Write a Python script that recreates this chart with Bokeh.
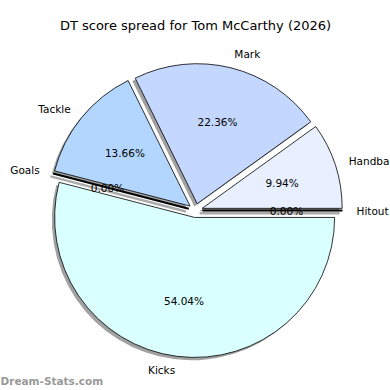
import math
from bokeh.plotting import figure
from bokeh.models import Range1d, ColumnDataSource
from bokeh.core.properties import value
from bokeh.embed import file_html
from bokeh.resources import INLINE

# ---- data ----
categories = ["Kicks", "Goals", "Tackle", "Mark", "Handball", "Hitout"]
percents = [54.04, 0.00, 13.66, 22.36, 9.94, 0.00]
colors = ["#d9ffff", "#d9ffff", "#b3d6ff", "#c4d8ff", "#e8f0ff", "#e8f0ff"]
title_text = "DT score spread for Tom McCarthy (2026)"
watermark = "Dream-Stats.com"

# ---- layout (picture pixels, y measured upward) ----
W, H = 390, 390
cx, cy = 195.0, H - 210.0
R = 140.0
EXPLODE = 0.05
SH_DX, SH_DY = -0.02 * R, -0.02 * R
FONT = "DejaVu Sans"

p = figure(width=W, height=H, output_backend="svg", toolbar_location=None,
           x_range=Range1d(0, W), y_range=Range1d(0, H),
           min_border=0, outline_line_color=None)
p.axis.visible = False
p.grid.visible = False
p.background_fill_color = "white"

total = sum(percents)
wedges = dict(x=[], y=[], sa=[], ea=[], color=[], shx=[], shy=[])
lines = dict(x0=[], y0=[], x1=[], y1=[], sx0=[], sy0=[], sx1=[], sy1=[])
labels = dict(x=[], y=[], text=[], align=[])
pcts = dict(x=[], y=[], text=[])

cum = 0.0
for cat, v, col in zip(categories, percents, colors):
    frac = v / total
    t_start = -cum * 2 * math.pi          # clockwise from 0
    t_end = -(cum + frac) * 2 * math.pi
    tm = (t_start + t_end) / 2
    ox = cx + EXPLODE * R * math.cos(tm)
    oy = cy + EXPLODE * R * math.sin(tm)
    if frac > 0:
        wedges["x"].append(ox); wedges["y"].append(oy)
        wedges["sa"].append(t_end); wedges["ea"].append(t_start)
        wedges["color"].append(col)
        wedges["shx"].append(ox + SH_DX); wedges["shy"].append(oy + SH_DY)
    else:
        ex = ox + R * math.cos(tm); ey = oy + R * math.sin(tm)
        lines["x0"].append(ox); lines["y0"].append(oy)
        lines["x1"].append(ex); lines["y1"].append(ey)
        lines["sx0"].append(ox + SH_DX); lines["sy0"].append(oy + SH_DY)
        lines["sx1"].append(ex + SH_DX); lines["sy1"].append(ey + SH_DY)
    lx = ox + 1.1 * R * math.cos(tm)
    ly = oy + 1.1 * R * math.sin(tm)
    labels["x"].append(lx); labels["y"].append(ly); labels["text"].append(cat)
    labels["align"].append("left" if math.cos(tm) > 0 else "right")
    pcts["x"].append(ox + 0.6 * R * math.cos(tm))
    pcts["y"].append(oy + 0.6 * R * math.sin(tm))
    pcts["text"].append(f"{v:.2f}%")
    cum += frac

wsrc = ColumnDataSource(wedges)
lsrc = ColumnDataSource(lines)

# shadows
p.wedge(x="shx", y="shy", radius=R, start_angle="sa", end_angle="ea",
        source=wsrc, fill_color="#444444", fill_alpha=0.5, line_color=None)
p.segment(x0="sx0", y0="sy0", x1="sx1", y1="sy1", source=lsrc,
          line_color="#888888", line_width=2.5, line_alpha=0.7)
# wedges
p.wedge(x="x", y="y", radius=R, start_angle="sa", end_angle="ea",
        source=wsrc, fill_color="color", line_color="black", line_width=0.8)
p.segment(x0="x0", y0="y0", x1="x1", y1="y1", source=lsrc,
          line_color="black", line_width=2.0)

# labels
p.text(x="x", y="y", text="text", text_align="align", source=ColumnDataSource(labels),
       text_baseline="middle", text_font=value(FONT), text_font_size="10.5px",
       text_color="black")
p.text(x="x", y="y", text="text", source=ColumnDataSource(pcts),
       text_align="center", text_baseline="middle", text_font=value(FONT),
       text_font_size="10.5px", text_color="black")

# title
p.text(x=[195], y=[H - 25], text=[title_text], text_align="center",
       text_baseline="middle", text_font=value(FONT), text_font_size="13px",
       text_color="black")
# watermark
p.text(x=[0], y=[H - 380], text=[watermark], text_align="left",
       text_baseline="middle", text_font=value(FONT), text_font_size="10.5px",
       text_font_style="bold", text_color="#999999")

open("out.html", "w").write(file_html(p, INLINE))
